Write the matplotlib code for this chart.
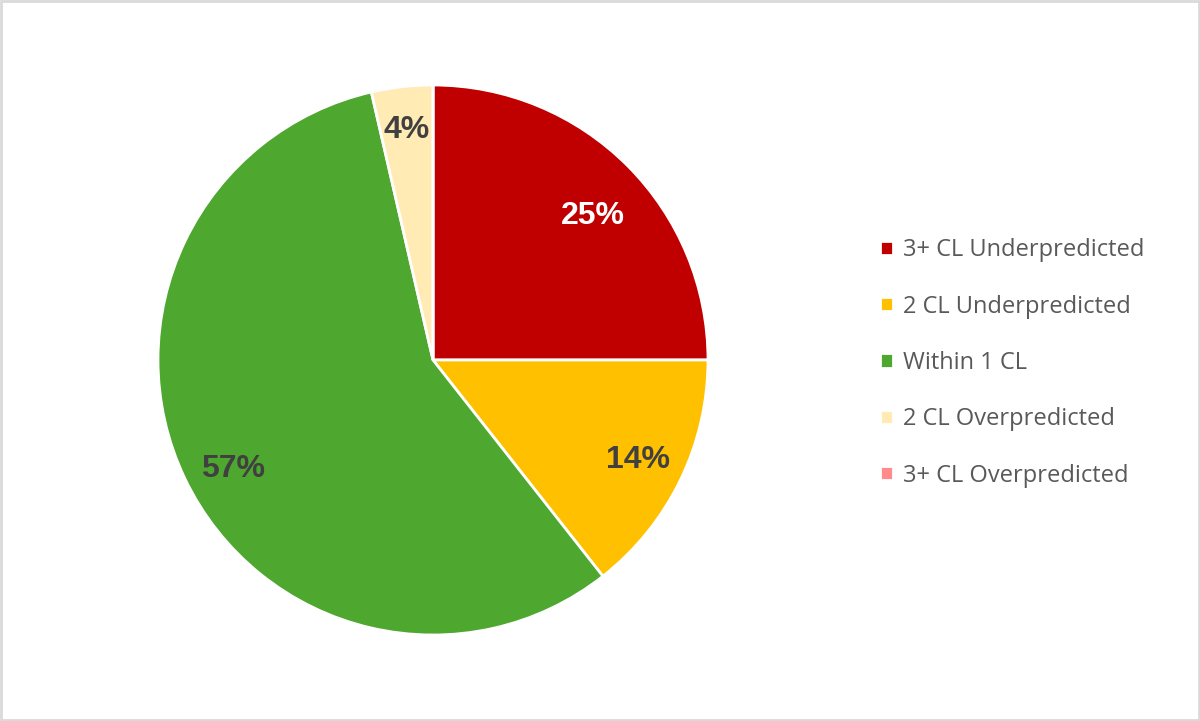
import numpy as np
import matplotlib.pyplot as plt
from matplotlib.patches import Rectangle

categories = ['3+ CL Underpredicted', '2 CL Underpredicted', 'Within 1 CL',
              '2 CL Overpredicted', '3+ CL Overpredicted']
shares = [25.0, 14.4, 57.0, 3.6, 0.0]
colors = ['#C00000', '#FFC000', '#4EA72E', '#FFEBB3', '#FF8B8B']
label_colors = ['white', '#404040', '#404040', '#404040', '#404040']
label_dist = [0.78, 0.83, 0.83, 0.84, 0.8]
label_turn = [-3, 0, 3, 0, 0]   # small angular nudges (deg) for the percent labels

fig = plt.figure(figsize=(12, 7.21), dpi=100)
fig.patches.append(Rectangle((0.001, 0.001), 0.998, 0.997, transform=fig.transFigure,
                             fill=False, edgecolor='#D9D9D9', linewidth=2))

# pie centre (433, 360) px, radius 275 px
ax = fig.add_axes([(433 - 275) / 1200, (361 - 275) / 721, 550 / 1200, 550 / 721])

def fmt(p):
    return '{:.0f}%'.format(p) if p > 0 else ''

wedges, texts, autotexts = ax.pie(shares, colors=colors, startangle=90, counterclock=False,
                                  autopct=fmt, pctdistance=0.82, radius=1,
                                  wedgeprops=dict(edgecolor='white', linewidth=2))
for w, t, c, d, a in zip(wedges, autotexts, label_colors, label_dist, label_turn):
    ang = np.deg2rad((w.theta1 + w.theta2) / 2 + a)
    t.set_position((d * np.cos(ang), d * np.sin(ang)))
    t.set_color(c)
    t.set_fontsize(23)
    t.set_fontweight('bold')
    t.set_fontfamily('Liberation Sans')
ax.set_xlim(-1, 1)
ax.set_ylim(-1, 1)
ax.set_aspect('equal')

leg = fig.legend(wedges, categories, loc='upper left', bbox_to_anchor=(859 / 1200, 1 - 217 / 721),
                 frameon=False, prop={'family': 'Open Sans', 'size': 17}, handlelength=0.55,
                 handleheight=0.55, handletextpad=0.4, labelspacing=1.37, labelcolor='#595959')

fig.savefig('out.png', dpi=100)
